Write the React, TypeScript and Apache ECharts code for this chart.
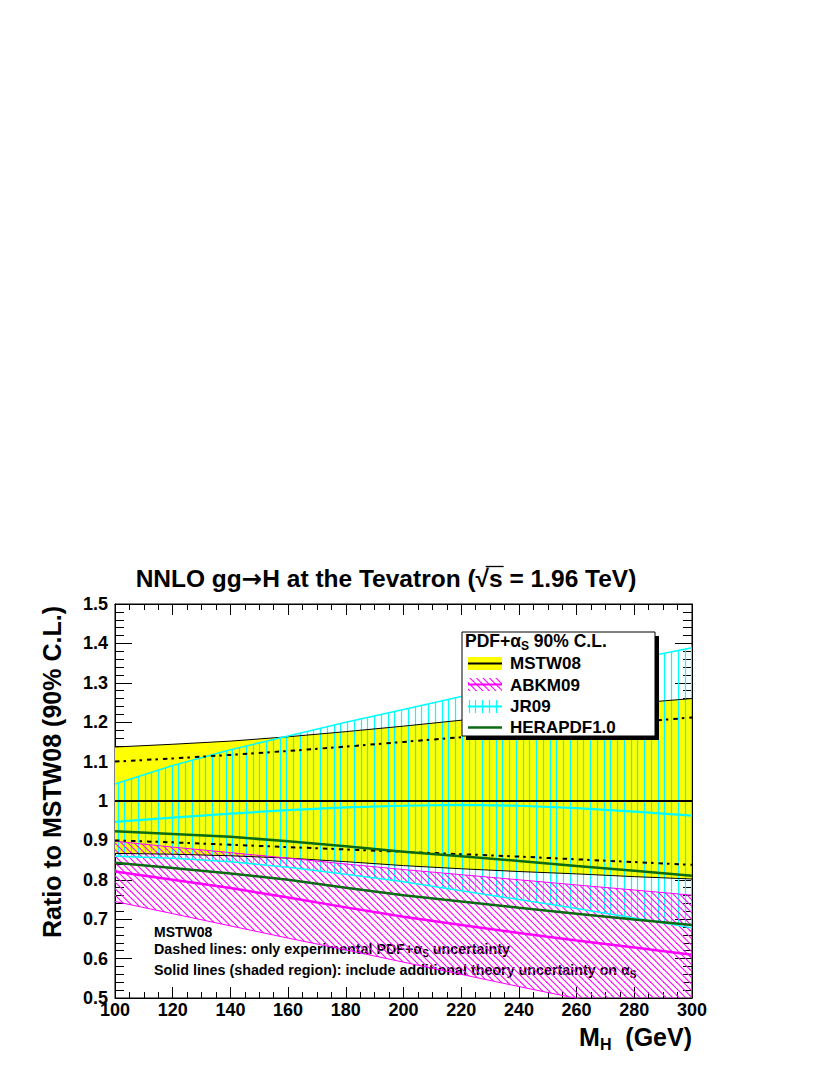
import React, { useEffect, useRef } from "react";
import * as echarts from "echarts";

// ---- data ----
const MH = [100, 120, 140, 160, 180, 200, 220, 240, 260, 280, 300];

const MSTW_CEN = [1, 1, 1, 1, 1, 1, 1, 1, 1, 1, 1];
const MSTW_UP = [1.137, 1.144, 1.152, 1.163, 1.176, 1.19, 1.205, 1.22, 1.235, 1.248, 1.26];
const MSTW_LO = [0.867, 0.865, 0.861, 0.855, 0.846, 0.836, 0.828, 0.821, 0.815, 0.808, 0.802];
const MSTW_EXP_UP = [1.1, 1.108, 1.117, 1.127, 1.138, 1.15, 1.162, 1.175, 1.188, 1.2, 1.212];
const MSTW_EXP_LO = [0.9, 0.895, 0.889, 0.883, 0.877, 0.871, 0.865, 0.859, 0.852, 0.845, 0.838];

const JR_UP = [1.043, 1.09, 1.13, 1.165, 1.2, 1.232, 1.265, 1.298, 1.33, 1.36, 1.389];
const JR_CEN = [0.947, 0.958, 0.968, 0.977, 0.984, 0.988, 0.99, 0.988, 0.982, 0.973, 0.963];
const JR_LO = [0.86, 0.855, 0.846, 0.832, 0.814, 0.795, 0.772, 0.75, 0.727, 0.703, 0.678];

const ABKM_UP = [0.898, 0.883, 0.869, 0.855, 0.84, 0.826, 0.813, 0.8, 0.787, 0.774, 0.761];
const ABKM_CEN = [0.821, 0.8, 0.779, 0.755, 0.73, 0.706, 0.685, 0.665, 0.646, 0.628, 0.61];
const ABKM_LO = [0.745, 0.714, 0.683, 0.652, 0.622, 0.591, 0.56, 0.529, 0.499, 0.468, 0.437];

const HERA_UP = [0.923, 0.916, 0.909, 0.898, 0.885, 0.871, 0.86, 0.848, 0.835, 0.823, 0.81];
const HERA_LO = [0.843, 0.83, 0.816, 0.8, 0.78, 0.761, 0.745, 0.729, 0.714, 0.699, 0.685];

const LEGEND_NAMES = ["MSTW08", "ABKM09", "JR09", "HERAPDF1.0"];

const FONT = "'Liberation Sans', Arial, Helvetica, sans-serif";
const ARROW_FONT = "'DejaVu Sans', sans-serif";
const YELLOW = "#ffff00";
const MAGENTA = "#ff00ff";
const CYAN = "#00ffff";
const GREEN = "#0b6b12";

const TITLE_A = "NNLO gg";
const TITLE_ARROW = "\u2192";
const TITLE_B1 = "H at the Tevatron (\u221A";
const TITLE_S = "s";
const TITLE_B2 = " = 1.96 TeV)";

function makeVerticalHatch() {
  const c = document.createElement("canvas");
  c.width = 27;
  c.height = 10;
  const ctx = c.getContext("2d")!;
  ctx.strokeStyle = CYAN;
  ctx.lineWidth = 1.2;
  [3.5, 10.5, 16.5, 23.5].forEach((x) => {
    ctx.beginPath();
    ctx.moveTo(x, 0);
    ctx.lineTo(x, 10);
    ctx.stroke();
  });
  return { image: c, repeat: "repeat", imageWidth: 27, imageHeight: 10 };
}

function makeDiagHatch() {
  const s = 13;
  const c = document.createElement("canvas");
  c.width = s;
  c.height = s;
  const ctx = c.getContext("2d")!;
  ctx.strokeStyle = MAGENTA;
  ctx.lineWidth = 1.1;
  [-s, -s / 2, 0, s / 2, s].forEach((k) => {
    ctx.beginPath();
    ctx.moveTo(k, 0);
    ctx.lineTo(k + s, s);
    ctx.stroke();
  });
  return { image: c, repeat: "repeat", imageWidth: s, imageHeight: s };
}

function band(name: string, lo: number[], hi: number[], fill: any) {
  return {
    type: "custom",
    name,
    clip: true,
    silent: true,
    data: MH.map((x, i) => [x, lo[i], hi[i]]),
    encode: { x: 0, y: [1, 2] },
    renderItem: (params: any, api: any) => {
      if (params.dataIndex !== 0) return null;
      const top = MH.map((x, i) => api.coord([x, hi[i]]));
      const bot = MH.map((x, i) => api.coord([x, lo[i]])).reverse();
      return {
        type: "polygon",
        shape: { points: top.concat(bot) },
        style: { fill, stroke: null },
      };
    },
  };
}

function ln(name: string, vals: number[], color: string, width: number, dash?: any) {
  return {
    type: "line",
    name,
    data: MH.map((x, i) => [x, vals[i]]),
    showSymbol: false,
    symbol: "none",
    silent: true,
    clip: true,
    lineStyle: { color, width, type: dash || "solid" },
  };
}

const tickCommon = (len: number, minorLen: number, split: number) => ({
  axisLine: { show: true, lineStyle: { color: "#000", width: 1 } },
  axisTick: { show: true, inside: true, length: len, lineStyle: { color: "#000", width: 1 } },
  minorTick: { show: true, splitNumber: split, length: minorLen, lineStyle: { color: "#000", width: 1 } },
  splitLine: { show: false },
  minorSplitLine: { show: false },
});

export default function App() {
  const ref = useRef<HTMLDivElement>(null);
  useEffect(() => {
    document.body.style.margin = "0";
    const chart = echarts.init(ref.current!, null, { renderer: "svg" });
    const vHatch = makeVerticalHatch();
    const dHatch = makeDiagHatch();
    const dash = [4.5, 4, 2.5, 5];

    // measure title to place the sqrt overline
    const TITLE_SIZE = 24.5;
    const mc = document.createElement("canvas").getContext("2d")!;
    const mw = (t: string, f: string) => {
      mc.font = `bold ${TITLE_SIZE}px ${f}`;
      return mc.measureText(t).width;
    };
    const wA = mw(TITLE_A, FONT);
    const wAr = mw(TITLE_ARROW, ARROW_FONT);
    const wB1 = mw(TITLE_B1, FONT);
    const wS = mw(TITLE_S, FONT);
    const wB2 = mw(TITLE_B2, FONT);
    const total = wA + wAr + wB1 + wS + wB2;
    const titleCx = 386;
    const titleLeft = titleCx - total / 2;
    const sqrtW = mw("\u221A", FONT);
    const olX1 = titleLeft + wA + wAr + wB1 - sqrtW * 0.25;
    const olX2 = titleLeft + wA + wAr + wB1 + wS + 1;

    const labelY = (v: number) => {
      const s = v.toFixed(1);
      return s === "1.0" ? "1" : s;
    };

    const option: any = {
      animation: false,
      textStyle: { fontFamily: FONT },
      grid: {
        left: 115,
        right: 138,
        top: 604,
        bottom: 77,
        show: true,
        borderColor: "#000",
        borderWidth: 1,
        backgroundColor: "transparent",
      },
      xAxis: [
        {
          type: "value",
          min: 100,
          max: 300,
          interval: 20,
          position: "bottom",
          ...tickCommon(11, 6, 4),
          axisLabel: { fontSize: 18, fontWeight: "bold", color: "#000", margin: 3, fontFamily: FONT },
        },
        {
          type: "value",
          min: 100,
          max: 300,
          interval: 20,
          position: "top",
          ...tickCommon(11, 6, 4),
          axisLabel: { show: false },
        },
      ],
      yAxis: [
        {
          type: "value",
          min: 0.5,
          max: 1.5,
          interval: 0.1,
          position: "left",
          ...tickCommon(17, 9, 5),
          axisLabel: { fontSize: 18, fontWeight: "bold", color: "#000", margin: 7, formatter: labelY, fontFamily: FONT },
        },
        {
          type: "value",
          min: 0.5,
          max: 1.5,
          interval: 0.1,
          position: "right",
          ...tickCommon(17, 9, 5),
          axisLabel: { show: false },
        },
      ],
      series: [
        band("MSTW08 band", MSTW_LO, MSTW_UP, YELLOW),
        band("JR09 band", JR_LO, JR_UP, vHatch),
        band("ABKM09 band", ABKM_LO, ABKM_UP, dHatch),
        ln("MSTW08 up", MSTW_UP, "#000", 1),
        ln("MSTW08 lo", MSTW_LO, "#000", 1),
        ln("JR09 up", JR_UP, CYAN, 1.5),
        ln("JR09 lo", JR_LO, CYAN, 1.5),
        ln("ABKM09 up", ABKM_UP, MAGENTA, 1),
        ln("ABKM09 lo", ABKM_LO, MAGENTA, 1),
        ln("MSTW08 exp up", MSTW_EXP_UP, "#000", 2, dash),
        ln("MSTW08 exp lo", MSTW_EXP_LO, "#000", 2, dash),
        ln("MSTW08", MSTW_CEN, "#000", 2),
        ln("JR09", JR_CEN, CYAN, 2.2),
        ln("ABKM09", ABKM_CEN, MAGENTA, 2.5),
        ln("HERAPDF1.0 up", HERA_UP, GREEN, 2.5),
        ln("HERAPDF1.0 lo", HERA_LO, GREEN, 2.5),
      ],
      graphic: [
        // title
        {
          type: "text",
          x: titleLeft,
          y: 578,
          style: {
            text: `{a|${TITLE_A}}{ar|${TITLE_ARROW}}{a|${TITLE_B1}${TITLE_S}${TITLE_B2}}`,
            align: "left",
            verticalAlign: "middle",
            rich: {
              a: { fontSize: TITLE_SIZE, fontWeight: "bold", fontFamily: FONT, fill: "#000" },
              ar: { fontSize: TITLE_SIZE, fontWeight: "bold", fontFamily: ARROW_FONT, fill: "#000" },
            },
          },
        },
        {
          type: "line",
          shape: { x1: olX1, y1: 566.5, x2: olX2, y2: 566.5 },
          style: { stroke: "#000", lineWidth: 1.3 },
        },
        // y axis title
        {
          type: "text",
          x: 52,
          y: 772,
          rotation: Math.PI / 2,
          style: {
            text: "Ratio to MSTW08 (90% C.L.)",
            font: `bold 25px ${FONT}`,
            fill: "#000",
            align: "center",
            verticalAlign: "middle",
          },
        },
        // x axis title
        {
          type: "text",
          x: 692,
          y: 1037,
          style: {
            text: "{a|M}{s|H}{a|  (GeV)}",
            align: "right",
            verticalAlign: "middle",
            rich: {
              a: { fontSize: 25, fontWeight: "bold", fontFamily: FONT, fill: "#000" },
              s: { fontSize: 16, fontWeight: "bold", fontFamily: FONT, fill: "#000", padding: [15, 0, 0, 0] },
            },
          },
        },
        // annotation
        {
          type: "text",
          x: 154,
          y: 932,
          style: { text: "MSTW08", font: `bold 14px ${FONT}`, fill: "#000", verticalAlign: "middle" },
        },
        {
          type: "text",
          x: 154,
          y: 949,
          style: {
            text: "{a|Dashed lines: only experimental PDF+\u03b1}{s|S}{a| uncertainty}",
            verticalAlign: "middle",
            rich: {
              a: { fontSize: 14.3, fontWeight: "bold", fontFamily: FONT, fill: "#000" },
              s: { fontSize: 10, fontWeight: "bold", fontFamily: FONT, fill: "#000", padding: [8, 0, 0, 0] },
            },
          },
        },
        {
          type: "text",
          x: 154,
          y: 970,
          style: {
            text: "{a|Solid lines (shaded region): include additional theory uncertainty on \u03b1}{s|S}",
            verticalAlign: "middle",
            rich: {
              a: { fontSize: 14.3, fontWeight: "bold", fontFamily: FONT, fill: "#000" },
              s: { fontSize: 10, fontWeight: "bold", fontFamily: FONT, fill: "#000", padding: [8, 0, 0, 0] },
            },
          },
        },
        // legend box with shadow
        { type: "rect", shape: { x: 466, y: 636, width: 193, height: 104 }, style: { fill: "#000" }, z: 10 },
        { type: "rect", shape: { x: 462, y: 632, width: 193, height: 104 }, style: { fill: "#fff", stroke: "#000", lineWidth: 1 }, z: 11 },
        {
          type: "text",
          x: 465,
          y: 641,
          z: 12,
          style: {
            text: "{a|PDF+\u03b1}{s|S}{a| 90% C.L.}",
            verticalAlign: "middle",
            rich: {
              a: { fontSize: 17.5, fontWeight: "bold", fontFamily: FONT, fill: "#000" },
              s: { fontSize: 12, fontWeight: "bold", fontFamily: FONT, fill: "#000", padding: [10, 0, 0, 0] },
            },
          },
        },
        { type: "rect", z: 12, shape: { x: 468, y: 657, width: 34, height: 13 }, style: { fill: YELLOW } },
        { type: "line", z: 12, shape: { x1: 468, y1: 663.5, x2: 502, y2: 663.5 }, style: { stroke: "#000", lineWidth: 2 } },
        { type: "rect", z: 12, shape: { x: 468, y: 678, width: 34, height: 13 }, style: { fill: dHatch } },
        { type: "line", z: 12, shape: { x1: 468, y1: 684.5, x2: 502, y2: 684.5 }, style: { stroke: MAGENTA, lineWidth: 2 } },
        { type: "rect", z: 12, shape: { x: 468, y: 700, width: 34, height: 13 }, style: { fill: vHatch } },
        { type: "line", z: 12, shape: { x1: 468, y1: 706.5, x2: 502, y2: 706.5 }, style: { stroke: CYAN, lineWidth: 2 } },
        { type: "line", z: 12, shape: { x1: 468, y1: 727.5, x2: 502, y2: 727.5 }, style: { stroke: GREEN, lineWidth: 2.5 } },
        ...LEGEND_NAMES.map((n, i) => ({
          type: "text",
          z: 12,
          x: 510,
          y: [663.5, 685, 706.5, 727.5][i],
          style: { text: n, font: `bold 17px ${FONT}`, fill: "#000", verticalAlign: "middle" },
        })),
      ],
    };
    chart.setOption(option);
    return () => chart.dispose();
  }, []);

  return <div ref={ref} style={{ width: 830, height: 1075 }} />;
}
